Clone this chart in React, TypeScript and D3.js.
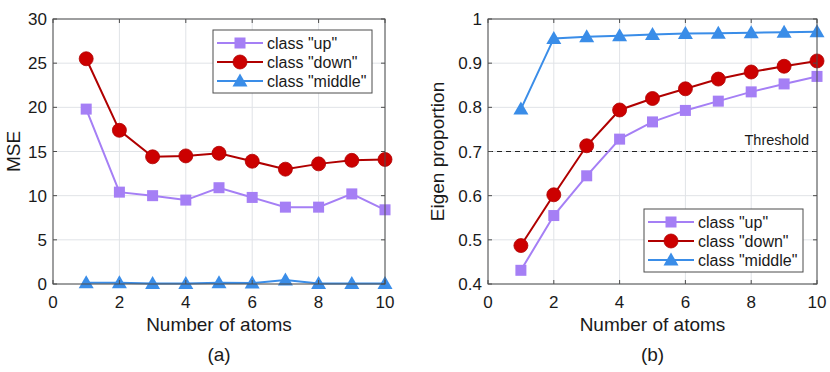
import React, { useEffect, useRef } from 'react';
import * as d3 from 'd3';

// DATA
const atoms = [1, 2, 3, 4, 5, 6, 7, 8, 9, 10];
const xTicks = [0, 2, 4, 6, 8, 10];

const mseUp = [19.8, 10.4, 10.0, 9.5, 10.9, 9.8, 8.7, 8.7, 10.2, 8.4];
const mseDown = [25.5, 17.4, 14.4, 14.5, 14.8, 13.9, 13.0, 13.6, 14.0, 14.1];
const mseMiddle = [0.15, 0.15, 0.05, 0.05, 0.15, 0.1, 0.45, 0.05, 0.05, 0.05];
const mseTicks = [0, 5, 10, 15, 20, 25, 30];

const eigUp = [0.431, 0.555, 0.645, 0.728, 0.767, 0.793, 0.814, 0.835, 0.853, 0.870];
const eigDown = [0.487, 0.602, 0.713, 0.794, 0.820, 0.842, 0.864, 0.880, 0.893, 0.905];
const eigMiddle = [0.796, 0.956, 0.960, 0.962, 0.965, 0.967, 0.968, 0.969, 0.970, 0.971];
const eigTicks = [0.4, 0.5, 0.6, 0.7, 0.8, 0.9, 1];
const threshold = 0.7;

const seriesNames = ['class "up"', 'class "down"', 'class "middle"'];

export default function App() {
    const ref = useRef<SVGSVGElement | null>(null);

    useEffect(() => {
        const svg = d3.select(ref.current);
        svg.selectAll('*').remove();

        // SETTINGS
        const font = 'Liberation Sans, Arial, Helvetica, sans-serif';
        const colors = ['#a57ff5', '#cc0000', '#3a8de8'];
        const strokes = ['#a57ff5', '#b00000', '#3a8de8'];
        const gridColor = '#e0e3e7';
        const axisColor = '#4d4d4d';
        const textColor = '#1a1a1a';
        const top = 19, bottom = 284;

        const drawMarker = (g: any, kind: number, cx: number, cy: number) => {
            if (kind === 0) {
                g.append('rect')
                    .attr('x', cx - 5.5).attr('y', cy - 5.5)
                    .attr('width', 11).attr('height', 11)
                    .attr('fill', colors[0]);
            } else if (kind === 1) {
                g.append('circle')
                    .attr('cx', cx).attr('cy', cy).attr('r', 7)
                    .attr('fill', colors[1])
                    .attr('stroke', strokes[1]).attr('stroke-width', 0.8);
            } else {
                g.append('path')
                    .attr('d', `M${cx},${cy - 7.5}L${cx + 7.5},${cy + 5.5}L${cx - 7.5},${cy + 5.5}Z`)
                    .attr('fill', colors[2]);
            }
        };

        const panel = (opts: {
            left: number; right: number; yDomain: [number, number]; yTicks: number[];
            tickFmt: (d: number) => string; series: number[][]; ylabel: string; ylabelX: number;
            caption: string; legend: { x: number; y: number }; threshold?: number;
        }) => {
            const g = svg.append('g');
            const x = d3.scaleLinear().domain([0, 10]).range([opts.left, opts.right]);
            const y = d3.scaleLinear().domain(opts.yDomain).range([bottom, top]);

            // grid
            g.selectAll('.gx').data(xTicks).enter().append('line')
                .attr('x1', d => x(d)).attr('x2', d => x(d))
                .attr('y1', top).attr('y2', bottom)
                .attr('stroke', gridColor);
            g.selectAll('.gy').data(opts.yTicks).enter().append('line')
                .attr('x1', opts.left).attr('x2', opts.right)
                .attr('y1', d => y(d)).attr('y2', d => y(d))
                .attr('stroke', gridColor);

            // threshold
            if (opts.threshold !== undefined) {
                g.append('line')
                    .attr('x1', opts.left).attr('x2', opts.right)
                    .attr('y1', y(opts.threshold)).attr('y2', y(opts.threshold))
                    .attr('stroke', '#222').attr('stroke-width', 1.2)
                    .attr('stroke-dasharray', '5,4');
                g.append('text')
                    .attr('x', opts.right - 8).attr('y', y(opts.threshold) - 6.5)
                    .attr('text-anchor', 'end')
                    .attr('font-size', 14.5).attr('font-family', font).attr('fill', textColor)
                    .text('Threshold');
            }

            // lines and markers
            const line = d3.line<number>()
                .x((d, i) => x(atoms[i]))
                .y(d => y(d));
            opts.series.forEach((s, k) => {
                g.append('path')
                    .datum(s)
                    .attr('fill', 'none')
                    .attr('stroke', strokes[k])
                    .attr('stroke-width', 2)
                    .attr('d', line);
                s.forEach((v, i) => drawMarker(g, k, x(atoms[i]), y(v)));
            });

            // box
            g.append('rect')
                .attr('x', opts.left).attr('y', top)
                .attr('width', opts.right - opts.left).attr('height', bottom - top)
                .attr('fill', 'none').attr('stroke', axisColor).attr('stroke-width', 1);

            // ticks
            const tickLen = 4;
            xTicks.forEach(t => {
                g.append('line').attr('x1', x(t)).attr('x2', x(t))
                    .attr('y1', bottom).attr('y2', bottom - tickLen).attr('stroke', axisColor);
                g.append('line').attr('x1', x(t)).attr('x2', x(t))
                    .attr('y1', top).attr('y2', top + tickLen).attr('stroke', axisColor);
                g.append('text')
                    .attr('x', x(t)).attr('y', 308)
                    .attr('text-anchor', 'middle')
                    .attr('font-size', 17).attr('font-family', font).attr('fill', textColor)
                    .text(t);
            });
            opts.yTicks.forEach(t => {
                g.append('line').attr('x1', opts.left).attr('x2', opts.left + tickLen)
                    .attr('y1', y(t)).attr('y2', y(t)).attr('stroke', axisColor);
                g.append('line').attr('x1', opts.right).attr('x2', opts.right - tickLen)
                    .attr('y1', y(t)).attr('y2', y(t)).attr('stroke', axisColor);
                g.append('text')
                    .attr('x', opts.left - 6).attr('y', y(t) + 6)
                    .attr('text-anchor', 'end')
                    .attr('font-size', 17).attr('font-family', font).attr('fill', textColor)
                    .text(opts.tickFmt(t));
            });

            // labels
            g.append('text')
                .attr('x', (opts.left + opts.right) / 2).attr('y', 331)
                .attr('text-anchor', 'middle')
                .attr('font-size', 19).attr('font-family', font).attr('fill', textColor)
                .text('Number of atoms');
            g.append('text')
                .attr('transform', `translate(${opts.ylabelX}, ${(top + bottom) / 2}) rotate(-90)`)
                .attr('text-anchor', 'middle')
                .attr('font-size', 19).attr('font-family', font).attr('fill', textColor)
                .text(opts.ylabel);
            g.append('text')
                .attr('x', (opts.left + opts.right) / 2).attr('y', 361)
                .attr('text-anchor', 'middle')
                .attr('font-size', 19).attr('font-family', font).attr('fill', textColor)
                .text(opts.caption);

            // legend
            const lg = g.append('g').attr('transform', `translate(${opts.legend.x}, ${opts.legend.y})`);
            lg.append('rect')
                .attr('width', 159).attr('height', 63)
                .attr('fill', '#fff').attr('stroke', axisColor);
            seriesNames.forEach((name, k) => {
                const cy = 13 + k * 19;
                lg.append('line').attr('x1', 4).attr('x2', 50)
                    .attr('y1', cy).attr('y2', cy)
                    .attr('stroke', strokes[k]).attr('stroke-width', 2);
                drawMarker(lg, k, 27, cy);
                lg.append('text')
                    .attr('x', 54).attr('y', cy + 5.5)
                    .attr('font-size', 16).attr('font-family', font).attr('fill', textColor)
                    .text(name);
            });
        };

        panel({
            left: 53, right: 385, yDomain: [0, 30], yTicks: mseTicks,
            tickFmt: d => String(d), series: [mseUp, mseDown, mseMiddle],
            ylabel: 'MSE', ylabelX: 20, caption: '(a)', legend: { x: 213, y: 30 }
        });
        panel({
            left: 488, right: 817, yDomain: [0.4, 1], yTicks: eigTicks,
            tickFmt: d => (d === 1 ? '1' : d.toFixed(1)), series: [eigUp, eigDown, eigMiddle],
            ylabel: 'Eigen proportion', ylabelX: 444, caption: '(b)', legend: { x: 644, y: 209 },
            threshold
        });
    }, []);

    return (
        <svg ref={ref} width={830} height={372}
            style={{ position: 'absolute', left: 0, top: 0, background: '#fff' }} />
    );
}
